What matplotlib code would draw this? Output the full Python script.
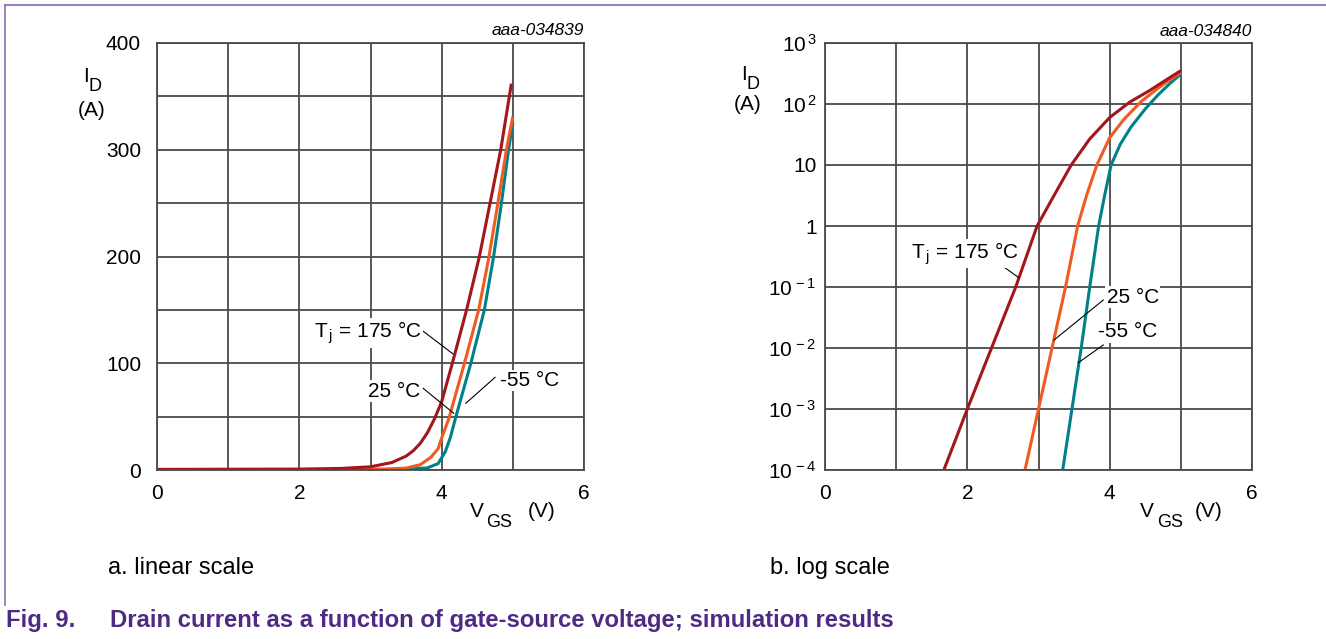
import matplotlib
matplotlib.use("Agg")
import matplotlib.pyplot as plt
from matplotlib.lines import Line2D

plt.rcParams['font.family'] = ['Liberation Sans', 'DejaVu Sans']
plt.rcParams['mathtext.fontset'] = 'custom'
plt.rcParams['mathtext.rm'] = 'Liberation Sans'
plt.rcParams['mathtext.it'] = 'Liberation Sans:italic'

# --- linear scale panel (VGS in V, ID in A)
lin_v_175 = [0, 2.0, 2.6, 3.0, 3.3, 3.5, 3.6, 3.7, 3.8, 3.9, 4.0, 4.15, 4.35, 4.53, 4.68, 4.83, 4.98]
lin_i_175 = [0.5, 0.8, 1.5, 3, 7, 13, 18, 25, 35, 48, 64, 100, 150, 200, 250, 300, 362]
lin_v_25 = [0, 2.5, 3.2, 3.5, 3.7, 3.85, 3.95, 4.0, 4.1, 4.32, 4.52, 4.66, 4.79, 4.91, 5.0]
lin_i_25 = [0.5, 0.5, 0.8, 1.8, 5, 12, 20, 30, 48, 100, 150, 198, 250, 300, 331]
lin_v_m55 = [0, 3.0, 3.5, 3.8, 3.95, 4.05, 4.12, 4.2, 4.41, 4.60, 4.73, 4.84, 4.94, 5.0]
lin_i_m55 = [0.5, 0.5, 0.8, 2, 6, 17, 30, 50, 100, 150, 200, 250, 300, 325]

# --- log scale panel
log_v_175 = [1.67, 2.0, 2.34, 2.68, 2.98, 3.2, 3.46, 3.715, 4.0, 4.28, 4.56, 4.8, 5.0]
log_i_175 = [1e-4, 1e-3, 1e-2, 1e-1, 1, 2.9, 10, 26.3, 60, 107, 166, 251, 352]
log_v_25 = [2.81, 3.0, 3.19, 3.38, 3.55, 3.68, 3.82, 4.0, 4.2, 4.45, 4.75, 5.0]
log_i_25 = [1e-4, 1e-3, 1e-2, 1e-1, 1, 3.3, 10, 28, 56, 112, 209, 331]
log_v_m55 = [3.34, 3.47, 3.60, 3.72, 3.845, 3.93, 4.02, 4.15, 4.3, 4.5, 4.68, 4.85, 5.0]
log_i_m55 = [1e-4, 1e-3, 1e-2, 1e-1, 1, 3.2, 10, 22, 42, 83, 141, 219, 309]

x_ticks = [0, 2, 4, 6]
lin_y_ticks = [0, 100, 200, 300, 400]
log_y_ticks = [1e-4, 1e-3, 1e-2, 1e-1, 1, 10, 1e2, 1e3]
log_y_labels = [r'$\mathregular{10^{\,-4}}$', r'$\mathregular{10^{\,-3}}$', r'$\mathregular{10^{\,-2}}$',
                r'$\mathregular{10^{\,-1}}$', '1', '10', r'$\mathregular{10^{\,2}}$', r'$\mathregular{10^{\,3}}$']

c175 = '#a3161b'
c25 = '#f05a23'
cm55 = '#00818a'
grid_c = '#4a4a4a'
purple = '#4f2a84'
fs = 15

fig = plt.figure(figsize=(13.26, 6.39), dpi=100)
W, H = 1326, 639

def px_axes(x0, y0, x1, y1):
    return fig.add_axes([x0 / W, 1 - y1 / H, (x1 - x0) / W, (y1 - y0) / H])

ax1 = px_axes(157, 43, 584, 470)
ax2 = px_axes(825, 43, 1252, 470)

for ax in (ax1, ax2):
    ax.set_xlim(0, 6)
    ax.set_xticks(x_ticks)
    ax.set_xticks(range(7), minor=True)
    ax.tick_params(which='both', length=0, labelsize=fs)
    ax.tick_params(axis='x', pad=10)
    ax.grid(which='both', color=grid_c, lw=1.3)
    ax.set_axisbelow(True)
    for s in ax.spines.values():
        s.set_color(grid_c)
        s.set_linewidth(1.3)
ax1.tick_params(axis='y', pad=11.5)
ax2.tick_params(axis='y', pad=6)

# linear panel
ax1.set_ylim(0, 400)
ax1.set_yticks(lin_y_ticks)
ax1.set_yticks(range(0, 401, 50), minor=True)
lw = 2.2
ax1.plot(lin_v_m55, lin_i_m55, color=cm55, lw=lw, solid_capstyle='butt')
ax1.plot(lin_v_25, lin_i_25, color=c25, lw=lw, solid_capstyle='butt')
ax1.plot(lin_v_175, lin_i_175, color=c175, lw=lw, solid_capstyle='butt')

box = dict(facecolor='white', edgecolor='none', pad=1)
tj = r'T$_{\,\mathregular{j}}$ = 175 °C'
ax1.text(3.72, 123.6, tj, fontsize=fs, ha='right', va='baseline', bbox=box)
ax1.text(3.70, 68.7, '25 °C', fontsize=fs, ha='right', va='baseline', bbox=box)
ax1.text(4.82, 78.7, '-55 °C', fontsize=fs, ha='left', va='baseline', bbox=box)
ax1.plot([3.74, 4.16], [130, 108.7], color='black', lw=0.8)
ax1.plot([3.74, 4.17], [76.5, 53.1], color='black', lw=0.8)
ax1.plot([4.75, 4.34], [86.8, 62.5], color='black', lw=0.8)
ax1.text(6, 405, 'aaa-034839', fontsize=12.5, style='italic', ha='right', va='bottom')

# log panel
ax2.set_yscale('log')
ax2.set_ylim(1e-4, 1e3)
ax2.set_yticks(log_y_ticks)
ax2.set_yticklabels(log_y_labels)
ax2.yaxis.set_minor_locator(matplotlib.ticker.NullLocator())
ax2.plot(log_v_m55, log_i_m55, color=cm55, lw=lw, solid_capstyle='butt')
ax2.plot(log_v_25, log_i_25, color=c25, lw=lw, solid_capstyle='butt')
ax2.plot(log_v_175, log_i_175, color=c175, lw=lw, solid_capstyle='butt')

ax2.text(2.726, 0.295, tj, fontsize=fs, ha='right', va='baseline', bbox=box)
ax2.text(3.958, 0.0553, '25 °C', fontsize=fs, ha='left', va='baseline', bbox=box)
ax2.text(3.84, 0.015, '-55 °C', fontsize=fs, ha='left', va='baseline', bbox=box)
ax2.plot([2.365, 2.716], [0.284, 0.144], color='black', lw=0.8)
ax2.plot([3.91, 3.218], [0.0612, 0.0135], color='black', lw=0.8)
ax2.plot([3.91, 3.559], [0.0112, 0.00574], color='black', lw=0.8)
ax2.text(6, 1.15e3, 'aaa-034840', fontsize=12.5, style='italic', ha='right', va='bottom')

# axis labels (main letter + lowered subscript)
def ftext(x, y, s, **kw):
    fig.text(x / W, 1 - y / H, s, **kw)

for xi, xd, y in [(83, 88, 82), (741, 747, 80)]:
    ftext(xi, y, 'I', fontsize=fs, ha='left', va='baseline')
    ftext(xd, y + 9, 'D', fontsize=13, ha='left', va='baseline')
ftext(92, 110, '(A)', fontsize=fs, ha='center', va='center')
ftext(748, 104, '(A)', fontsize=fs, ha='center', va='center')
for xv, xg, xu in [(470, 486, 528), (1140, 1157, 1195)]:
    ftext(xv, 517, 'V', fontsize=fs, ha='left', va='baseline')
    ftext(xg, 527, 'GS', fontsize=13, ha='left', va='baseline')
    ftext(xu, 517, '(V)', fontsize=fs, ha='left', va='baseline')

ftext(108, 568, 'a. linear scale', fontsize=17, ha='left', va='center')
ftext(770, 568, 'b. log scale', fontsize=17, ha='left', va='center')

ftext(6, 621, 'Fig. 9.', fontsize=17.2, ha='left', va='center', color=purple, weight='bold')
ftext(110, 621, 'Drain current as a function of gate-source voltage; simulation results',
      fontsize=17.2, ha='left', va='center', color=purple, weight='bold')

# frame lines
fig.add_artist(Line2D([5 / W, 1], [1 - 5 / H, 1 - 5 / H], color='#9d84c0', lw=1.5))
fig.add_artist(Line2D([5 / W, 5 / W], [1 - 5 / H, 1 - 605 / H], color='#8a73a8', lw=1.2))

fig.savefig('out.png', dpi=100)
